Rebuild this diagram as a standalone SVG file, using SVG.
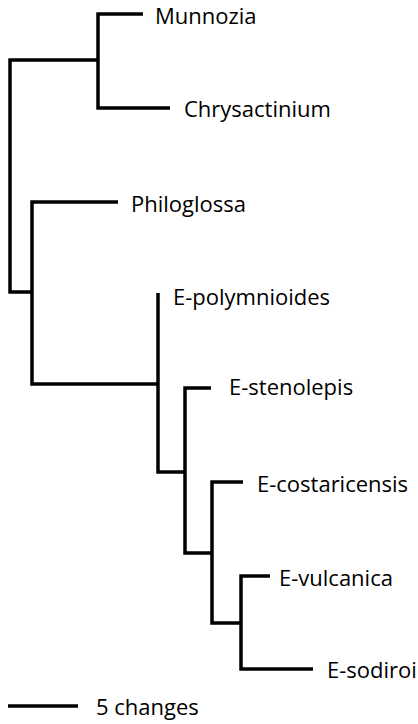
<svg xmlns="http://www.w3.org/2000/svg" width="418" height="724" viewBox="0 0 418 724">
<style>
.br{fill:none;stroke:#000;stroke-width:3.5;stroke-linejoin:miter;stroke-linecap:butt}
.lb{font-family:"Open Sans","Liberation Sans",sans-serif;font-size:22px;fill:#000}
</style>
<rect width="418" height="724" fill="#fff"/>
<g id="connectors">
<polyline class="br" points="98,60 10,60 10,292 32,292"/>
<polyline class="br" points="143,14 98,14 98,108 170,108"/>
<polyline class="br" points="118,202 32,202 32,384 158,384"/>
<polyline class="br" points="158,293 158,472 185,472"/>
<polyline class="br" points="211,388 185,388 185,553 212,553"/>
<polyline class="br" points="243,482 212,482 212,623 241,623"/>
<polyline class="br" points="270,576 241,576 241,669 313,669"/>
</g>
<g id="munnozia"><text class="lb" x="155" y="24">Munnozia</text></g>
<g id="chrysactinium"><text class="lb" x="184" y="117">Chrysactinium</text></g>
<g id="philoglossa"><text class="lb" x="131" y="212">Philoglossa</text></g>
<g id="e-polymnioides"><text class="lb" x="173" y="305">E-polymnioides</text></g>
<g id="e-stenolepis"><text class="lb" x="229" y="395">E-stenolepis</text></g>
<g id="e-costaricensis"><text class="lb" x="257" y="492">E-costaricensis</text></g>
<g id="e-vulcanica"><text class="lb" x="279" y="586">E-vulcanica</text></g>
<g id="e-sodiroi"><text class="lb" x="327" y="678">E-sodiroi</text></g>
<g id="scale-bar">
<line class="br" x1="8" y1="706" x2="78" y2="706"/>
<text class="lb" x="96" y="715">5 changes</text>
</g>
</svg>
